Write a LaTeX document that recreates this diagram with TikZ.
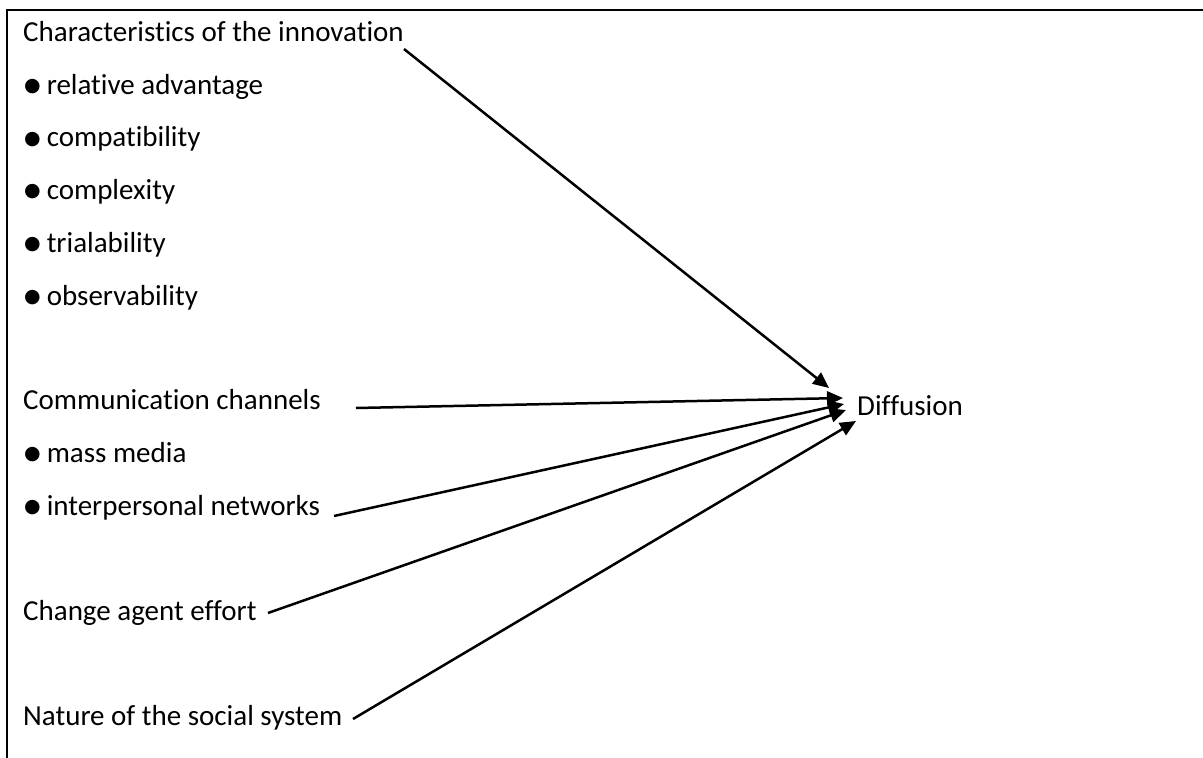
\documentclass[tikz,border=0pt]{standalone}
\usepackage{fontspec}
\setmainfont[RawFeature={-liga}]{Carlito}
\newfontfamily\symfont{DejaVu Sans}
\usetikzlibrary{arrows.meta}
\newcommand{\bul}{\raisebox{2.5pt}{\symfont\fontsize{19}{19}\selectfont ●}\hspace{6pt}}
\begin{document}
\begin{tikzpicture}[x=1pt,y=-1pt,
  lbl/.style={anchor=base west,inner sep=0pt,font=\fontsize{29}{35}\selectfont},
  arr/.style={line width=2.5pt,-{Triangle[length=16pt,width=14pt]}},
  frame/.style={line width=2pt}]
\useasboundingbox (0,0) rectangle (1203,758);
\fill[white] (0,0) rectangle (1203,758);
\draw[frame] (1203,10) -- (7,10) -- (7,758);
\node[lbl] (char) at (23,41) {Characteristics of the innovation};
\node[lbl] (b1) at (24,94) {\bul relative advantage};
\node[lbl] (b2) at (24,146.5) {\bul compatibility};
\node[lbl] (b3) at (24,199) {\bul complexity};
\node[lbl] (b4) at (24,252) {\bul trialability};
\node[lbl] (b5) at (24,305) {\bul observability};
\node[lbl] (comm) at (23,409) {Communication channels};
\node[lbl] (b6) at (24,462) {\bul mass media};
\node[lbl] (b7) at (24,515) {\bul interpersonal networks};
\node[lbl] (agent) at (23,620) {Change agent effort};
\node[lbl] (nat) at (23,725) {Nature of the social system};
\node[lbl] (diff) at (857,415) {Diffusion};
\coordinate (s1) at (404,49);
\coordinate (s2) at (356,408);
\coordinate (s3) at (334,516);
\coordinate (s4) at (268,613);
\coordinate (s5) at (353,719);
\coordinate (t1) at (829,388);
\coordinate (t2) at (843,398);
\coordinate (t3) at (844,404);
\coordinate (t4) at (846,410);
\coordinate (t5) at (856,421);
\draw[arr] (s1) -- (t1);
\draw[arr] (s2) -- (t2);
\draw[arr] (s3) -- (t3);
\draw[arr] (s4) -- (t4);
\draw[arr] (s5) -- (t5);
\end{tikzpicture}
\end{document}
